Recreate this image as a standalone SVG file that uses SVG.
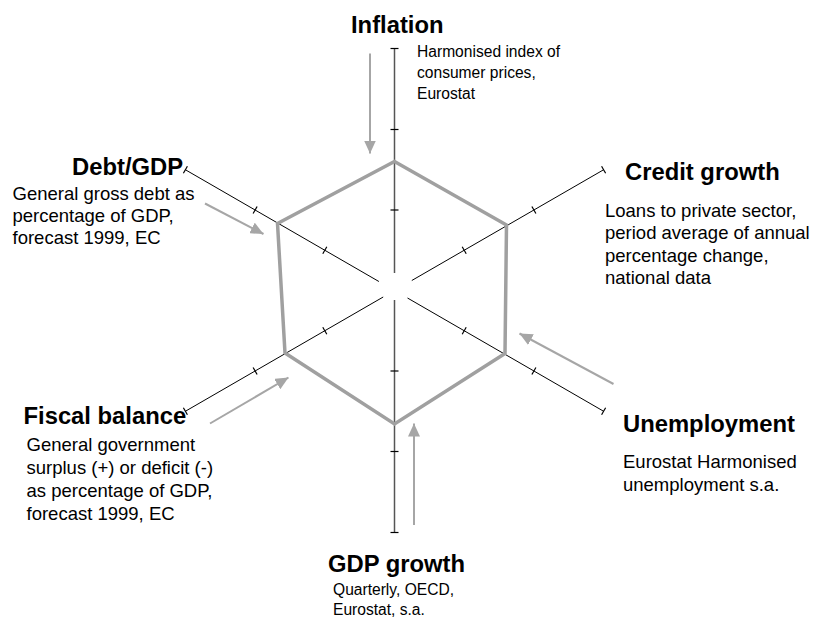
<svg xmlns="http://www.w3.org/2000/svg" width="814" height="617" viewBox="0 0 814 617">
<defs>
<marker id="ah" viewBox="0 0 13 12" refX="13" refY="6" markerWidth="13" markerHeight="12" markerUnits="userSpaceOnUse" orient="auto">
<path d="M0,0 L13,6 L0,12 Z" fill="#a6a6a6"/>
</marker>
<style>
.title{font-family:"Liberation Sans",Arial,sans-serif;font-weight:bold;font-size:23.8px;fill:#000}
.body{font-family:"Liberation Sans",Arial,sans-serif;font-size:18.5px;fill:#000}
.small{font-family:"Liberation Sans",Arial,sans-serif;font-size:15.6px;fill:#000}
.axis{stroke:#000;stroke-width:1;fill:none}
.vaxis{stroke:#555;stroke-width:1.5;fill:none}
.tick{stroke:#000;stroke-width:1.2}
.arrow{stroke:#a6a6a6;stroke-width:2;fill:none;marker-end:url(#ah)}
.hex{stroke:#a0a0a0;stroke-width:3.5;fill:none;stroke-linejoin:miter}
</style>
</defs>
<rect width="814" height="617" fill="#fff"/>
<g id="connectors">
<g id="axes">
<line class="vaxis" x1="394.5" y1="48.5" x2="394.5" y2="273"/>
<line class="vaxis" x1="394.5" y1="300" x2="394.5" y2="532.5"/>
<line class="axis" x1="378.9" y1="281.5" x2="185.4" y2="169.75"/>
<line class="axis" x1="411.8" y1="280.5" x2="603.6" y2="169.75"/>
<line class="axis" x1="407.5" y1="298" x2="603.6" y2="411.25"/>
<line class="axis" x1="383.2" y1="297" x2="185.4" y2="411.25"/>
</g>
<g id="ticks">
<line class="tick" x1="390.5" y1="48.5" x2="398.5" y2="48.5"/>
<line class="tick" x1="390.5" y1="129.5" x2="398.5" y2="129.5"/>
<line class="tick" x1="390.5" y1="210" x2="398.5" y2="210"/>
<line class="tick" x1="390.5" y1="371" x2="398.5" y2="371"/>
<line class="tick" x1="390.5" y1="451.5" x2="398.5" y2="451.5"/>
<line class="tick" x1="390.5" y1="532.5" x2="398.5" y2="532.5"/>
<line class="tick" x1="322.8" y1="253.7" x2="326.8" y2="246.8"/>
<line class="tick" x1="253.1" y1="213.5" x2="257.1" y2="206.5"/>
<line class="tick" x1="183.4" y1="173.2" x2="187.4" y2="166.3"/>
<line class="tick" x1="462.2" y1="334.2" x2="466.2" y2="327.3"/>
<line class="tick" x1="531.9" y1="374.5" x2="535.9" y2="367.5"/>
<line class="tick" x1="601.6" y1="414.7" x2="605.6" y2="407.8"/>
<line class="tick" x1="462.2" y1="246.8" x2="466.2" y2="253.7"/>
<line class="tick" x1="531.9" y1="206.5" x2="535.9" y2="213.5"/>
<line class="tick" x1="601.6" y1="166.3" x2="605.6" y2="173.2"/>
<line class="tick" x1="322.8" y1="327.3" x2="326.8" y2="334.2"/>
<line class="tick" x1="253.1" y1="367.5" x2="257.1" y2="374.5"/>
<line class="tick" x1="183.4" y1="407.8" x2="187.4" y2="414.7"/>
</g>
<g id="arrows">
<line class="arrow" x1="370" y1="53.5" x2="370" y2="153.5"/>
<line class="arrow" x1="205" y1="203.5" x2="263.5" y2="234"/>
<line class="arrow" x1="210" y1="423.5" x2="288.5" y2="377.5"/>
<line class="arrow" x1="613.5" y1="384" x2="519.5" y2="333.5"/>
<line class="arrow" x1="414" y1="525" x2="414" y2="423.5"/>
</g>
</g>
<g id="hexagon">
<polygon class="hex" points="394.5,161.5 506.5,225 505,353.5 394.5,424 285,353 277.5,223.5"/>
</g>
<g id="inflation">
<text class="title" x="351" y="33">Inflation</text>
<text class="small"><tspan x="417" y="57">Harmonised index of</tspan><tspan x="417" y="78">consumer prices,</tspan><tspan x="417" y="99">Eurostat</tspan></text>
</g>
<g id="debt">
<text class="title" x="72" y="175">Debt/GDP</text>
<text class="body"><tspan x="12.5" y="199.5">General gross debt as</tspan><tspan x="12.5" y="221.5">percentage of GDP,</tspan><tspan x="12.5" y="243.5">forecast 1999, EC</tspan></text>
</g>
<g id="credit">
<text class="title" x="625" y="180">Credit growth</text>
<text class="body"><tspan x="605" y="216.5">Loans to private sector,</tspan><tspan x="605" y="239">period average of annual</tspan><tspan x="605" y="261.5">percentage change,</tspan><tspan x="605" y="284">national data</tspan></text>
</g>
<g id="unemployment">
<text class="title" x="623" y="432">Unemployment</text>
<text class="body"><tspan x="623" y="467.5">Eurostat Harmonised</tspan><tspan x="623" y="490.5">unemployment s.a.</tspan></text>
</g>
<g id="fiscal">
<text class="title" x="23.5" y="424">Fiscal balance</text>
<text class="body"><tspan x="26.5" y="451">General government</tspan><tspan x="26.5" y="474">surplus (+) or deficit (-)</tspan><tspan x="26.5" y="497">as percentage of GDP,</tspan><tspan x="26.5" y="520">forecast 1999, EC</tspan></text>
</g>
<g id="gdp">
<text class="title" x="328" y="572">GDP growth</text>
<text class="small"><tspan x="333" y="595">Quarterly, OECD,</tspan><tspan x="333" y="615">Eurostat, s.a.</tspan></text>
</g>
</svg>
